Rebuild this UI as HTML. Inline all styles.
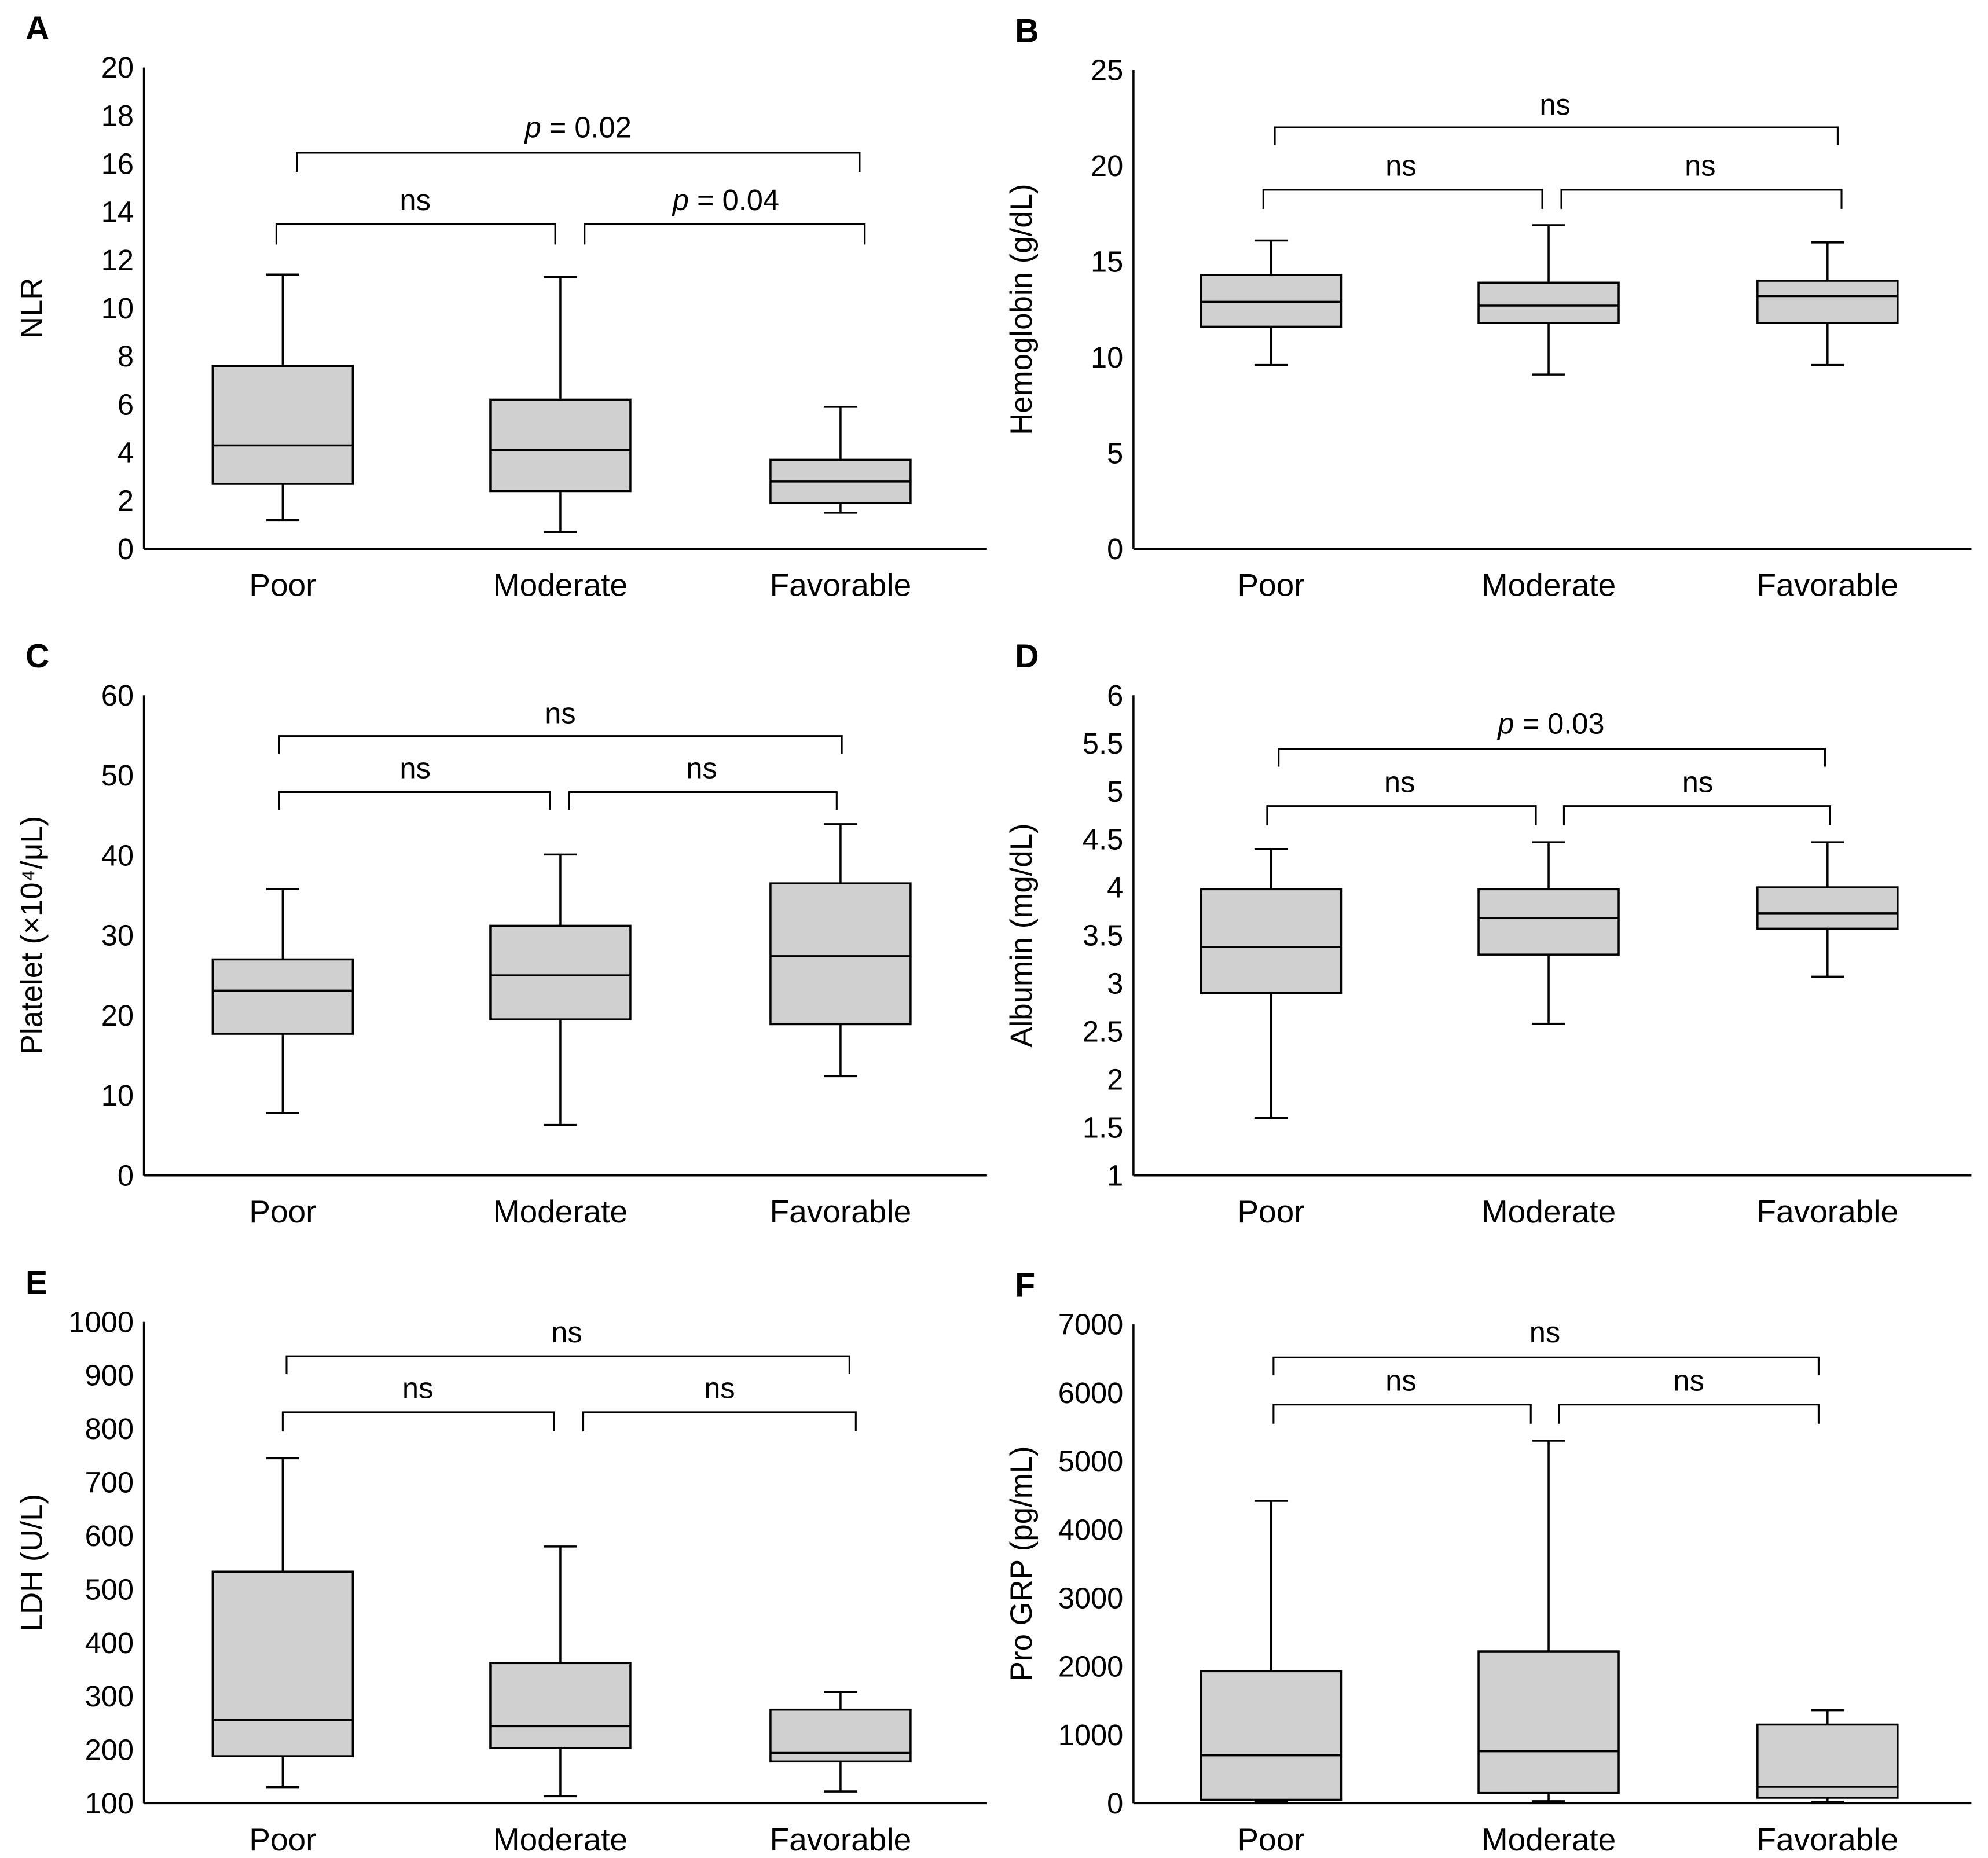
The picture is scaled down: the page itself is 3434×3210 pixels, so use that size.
<!DOCTYPE html>
<html><head><meta charset="utf-8"><style>
html,body{margin:0;padding:0;background:#fff}
svg{display:block}
text{font-family:"Liberation Sans",Arial,sans-serif;fill:#000}
</style></head><body>
<svg id="fig" width="3434" height="3210" viewBox="0 0 1561 1459" preserveAspectRatio="none" xmlns="http://www.w3.org/2000/svg"></svg>
<script>
const categories = ["Poor","Moderate","Favorable"];
// [whiskerLow, q1, median, q3, whiskerHigh]
const nlrValues = [[1.2,2.7,4.3,7.6,11.4],[0.7,2.4,4.1,6.2,11.3],[1.5,1.9,2.8,3.7,5.9]];
const hbValues = [[9.6,11.6,12.9,14.3,16.1],[9.1,11.8,12.7,13.9,16.9],[9.6,11.8,13.2,14.0,16.0]];
const pltValues = [[7.8,17.7,23.1,27.0,35.8],[6.3,19.5,25.0,31.2,40.1],[12.4,18.9,27.4,36.5,43.9]];
const albValues = [[1.6,2.9,3.38,3.98,4.4],[2.58,3.3,3.68,3.98,4.47],[3.07,3.57,3.73,4.0,4.47]];
const ldhValues = [[130,188,256,533,745],[113,203,244,362,580],[122,178,194,275,308]];
const grpValues = [[30,50,700,1930,4420],[30,150,760,2220,5300],[20,80,240,1150,1360]];
const nlrTicks = [0,2,4,6,8,10,12,14,16,18,20];
const hbTicks = [0,5,10,15,20,25];
const pltTicks = [0,10,20,30,40,50,60];
const albTicks = [1,1.5,2,2.5,3,3.5,4,4.5,5,5.5,6];
const ldhTicks = [100,200,300,400,500,600,700,800,900,1000];
const grpTicks = [0,1000,2000,3000,4000,5000,6000,7000];
const nlrLabels = ["p = 0.02","ns","p = 0.04"];
const hbLabels = ["ns","ns","ns"];
const pltLabels = ["ns","ns","ns"];
const albLabels = ["p = 0.03","ns","ns"];
const ldhLabels = ["ns","ns","ns"];
const grpLabels = ["ns","ns","ns"];

const NS="http://www.w3.org/2000/svg";
const svg=document.getElementById('fig');
function mk(tag,attrs,parent){const e=document.createElementNS(NS,tag);for(const k in attrs)e.setAttribute(k,attrs[k]);(parent||svg).appendChild(e);return e;}

const panels=[
 {id:'a',letter:'A',ax:113,top:53,bot:431,right:775,cx:[222,440,660],ticks:nlrTicks,vals:nlrValues,title:'NLR',tx:25,
  br:[[233,675,120,135],[217,436,176,192],[459,679,176,192]],bl:nlrLabels,lx:[454,326,570],ly:[100,157,157]},
 {id:'b',letter:'B',ax:890,top:55,bot:431,right:1548,cx:[998,1216,1435],ticks:hbTicks,vals:hbValues,title:'Hemoglobin (g/dL)',tx:802,
  br:[[1001,1443,100,114],[992,1211,149,164],[1226,1446,149,164]],bl:hbLabels,lx:[1221,1100,1335],ly:[82,130,130]},
 {id:'c',letter:'C',ax:113,top:546,bot:923,right:775,cx:[222,440,660],ticks:pltTicks,vals:pltValues,title:'Platelet (×10⁴/μL)',tx:25,
  br:[[219,661,578,592],[219,432,622,636],[447,657,622,636]],bl:pltLabels,lx:[440,326,551],ly:[560,603,603]},
 {id:'d',letter:'D',ax:890,top:546,bot:923,right:1548,cx:[998,1216,1435],ticks:albTicks,vals:albValues,title:'Albumin (mg/dL)',tx:802,
  br:[[1004,1433,588,602],[995,1206,633,648],[1228,1437,633,648]],bl:albLabels,lx:[1218,1099,1333],ly:[568,614,614]},
 {id:'e',letter:'E',ax:113,top:1038,bot:1416,right:775,cx:[222,440,660],ticks:ldhTicks,vals:ldhValues,title:'LDH (U/L)',tx:25,
  br:[[225,667,1065,1079],[222,435,1109,1124],[458,672,1109,1124]],bl:ldhLabels,lx:[445,328,565],ly:[1046,1090,1090]},
 {id:'f',letter:'F',ax:890,top:1040,bot:1416,right:1548,cx:[998,1216,1435],ticks:grpTicks,vals:grpValues,title:'Pro GRP (pg/mL)',tx:802,
  br:[[1000,1428,1066,1080],[1000,1202,1103,1118],[1224,1428,1103,1118]],bl:grpLabels,lx:[1213,1100,1326],ly:[1046,1084,1084]}
];

panels.forEach(p=>{
  const g=mk('g',{});
  
  
  const t0=p.ticks[0],t1=p.ticks[p.ticks.length-1];
  const y=v=>p.bot-(v-t0)/(t1-t0)*(p.bot-p.top);
  const L=mk('text',{x:p.ax-93,y:p.top-22,'font-size':26,'font-weight':'bold'},g);L.textContent=p.letter;
  
  
  const ya=mk('line',{x1:p.ax,y1:p.top,x2:p.ax,y2:p.bot,stroke:'#000','stroke-width':1.6},g);
  
  
  const xa=mk('line',{x1:p.ax,y1:p.bot,x2:p.right,y2:p.bot,stroke:'#000','stroke-width':1.6},g);
  
  
  p.ticks.forEach(tv=>{
    const t=mk('text',{x:p.ax-8,y:y(tv)+8,'font-size':23,'text-anchor':'end'},g);t.textContent=String(tv);
    
    
  });
  const yt=mk('text',{x:0,y:0,'font-size':24,'text-anchor':'middle',transform:`translate(${p.tx+8},${(p.top+p.bot)/2}) rotate(-90)`},g);
  yt.textContent=p.title;
  
  
  categories.forEach((c,i)=>{
    const cx=p.cx[i],v=p.vals[i];
    const t=mk('text',{x:cx,y:p.bot+37,'font-size':25,'text-anchor':'middle'},g);t.textContent=c;
    
    
    const bg=mk('g',{stroke:'#000','stroke-width':1.6},g);
    
    
    mk('line',{x1:cx,y1:y(v[0]),x2:cx,y2:y(v[1])},bg);
    mk('line',{x1:cx,y1:y(v[3]),x2:cx,y2:y(v[4])},bg);
    mk('line',{x1:cx-13,y1:y(v[0]),x2:cx+13,y2:y(v[0])},bg);
    mk('line',{x1:cx-13,y1:y(v[4]),x2:cx+13,y2:y(v[4])},bg);
    mk('rect',{x:cx-55,y:y(v[3]),width:110,height:y(v[1])-y(v[3]),fill:'#d0d0d0'},bg);
    mk('line',{x1:cx-55,y1:y(v[2]),x2:cx+55,y2:y(v[2])},bg);
  });
  p.br.forEach((b,i)=>{
    const pl=mk('polyline',{points:`${b[0]},${b[3]} ${b[0]},${b[2]} ${b[1]},${b[2]} ${b[1]},${b[3]}`,fill:'none',stroke:'#000','stroke-width':1.4},g);
    
    
    const lab=p.bl[i];
    const t=mk('text',{x:p.lx[i],y:p.ly[i]+8,'font-size':23,'text-anchor':'middle'},g);
    if(lab.startsWith('p')){
      const s1=mk('tspan',{'font-style':'italic'},t);s1.textContent='p';
      const s2=mk('tspan',{},t);s2.textContent=lab.slice(1);
    } else t.textContent=lab;
    
    
  });
});
</script>
</body></html>
